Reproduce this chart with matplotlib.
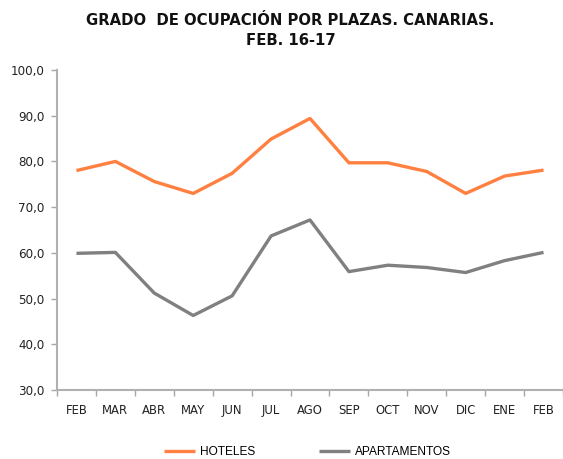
import matplotlib
matplotlib.use("Agg")
import matplotlib.pyplot as plt
from matplotlib.ticker import FixedLocator, FuncFormatter

months = ["FEB", "MAR", "ABR", "MAY", "JUN", "JUL", "AGO", "SEP", "OCT", "NOV", "DIC", "ENE", "FEB"]
hoteles = [78.0, 80.0, 75.6, 73.0, 77.4, 84.9, 89.4, 79.7, 79.7, 77.8, 73.0, 76.8, 78.1]
apartamentos = [59.9, 60.1, 51.2, 46.3, 50.6, 63.7, 67.2, 55.9, 57.3, 56.8, 55.7, 58.3, 60.1]
title = "GRADO  DE OCUPACIÓN POR PLAZAS. CANARIAS.\nFEB. 16-17"

plt.rcParams['font.family'] = ['DejaVu Sans']

fig = plt.figure(figsize=(5.63, 4.59), dpi=100)
ax = fig.add_axes([0.1012, 0.1503, 0.8988, 0.6972])

x = list(range(len(months)))
ax.plot(x, hoteles, color="#FF8040", lw=2.4, label="HOTELES", solid_capstyle="butt")
ax.plot(x, apartamentos, color="#808080", lw=2.4, label="APARTAMENTOS", solid_capstyle="butt")

ax.set_xlim(-0.5, len(months) - 0.5)
ax.set_ylim(30, 100)
ax.yaxis.set_major_locator(FixedLocator([30, 40, 50, 60, 70, 80, 90, 100]))
ax.yaxis.set_major_formatter(FuncFormatter(lambda v, p: f"{v:.1f}".replace(".", ",")))

ax.set_xticks([i - 0.5 for i in range(len(months) + 1)])
ax.set_xticklabels([])
ax.set_xticks(x, minor=True)
ax.set_xticklabels(months, minor=True, fontsize=8.4, color="#222222")
ax.tick_params(axis="x", which="minor", length=0, pad=10)
ax.tick_params(axis="x", which="major", length=4, width=1, color="#A6A6A6")
ax.tick_params(axis="y", length=4, width=1, color="#A6A6A6", labelsize=8.6, labelcolor="#222222", pad=5)

for s in ["top", "right"]:
    ax.spines[s].set_visible(False)
for s in ["left", "bottom"]:
    ax.spines[s].set_color("#B0B0B0")
    ax.spines[s].set_linewidth(1.5)

fig.text(0.516, 0.934, title, ha="center", va="center", fontsize=10.7, fontweight="bold",
         color="#111111", linespacing=1.45)

fig.legend(loc="center", bbox_to_anchor=(0.546, 0.015), ncol=2, frameon=False,
           prop={"family": "Liberation Sans", "size": 8.6},
           handlelength=2.6, handletextpad=0.35, columnspacing=5.4)

fig.savefig("out.png", dpi=100)
